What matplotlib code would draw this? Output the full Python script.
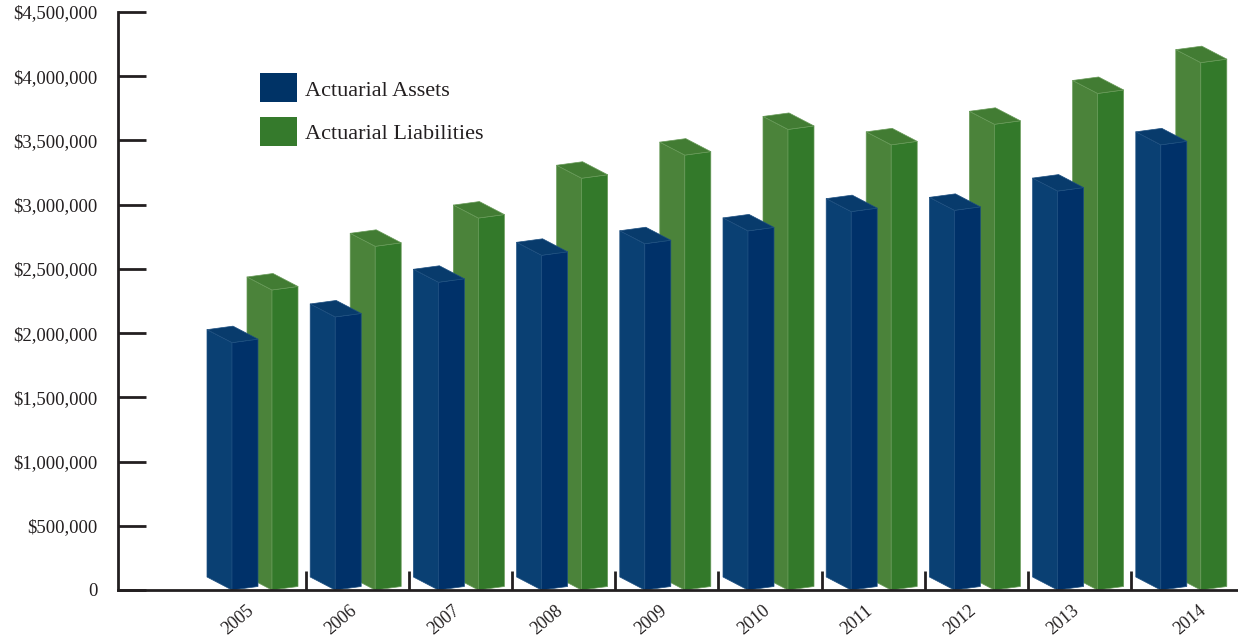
import matplotlib
matplotlib.use("Agg")
import matplotlib.pyplot as plt
from matplotlib.patches import Polygon, Rectangle
from matplotlib.ticker import FuncFormatter, FixedLocator
import matplotlib.transforms as mtransforms

# data
years = ["2005", "2006", "2007", "2008", "2009", "2010", "2011", "2012", "2013", "2014"]
assets = [1.99e6, 2.19e6, 2.46e6, 2.67e6, 2.76e6, 2.86e6, 3.01e6, 3.02e6, 3.17e6, 3.53e6]
liabilities = [2.40e6, 2.74e6, 2.96e6, 3.27e6, 3.45e6, 3.65e6, 3.53e6, 3.69e6, 3.93e6, 4.17e6]
series_names = ["Actuarial Assets", "Actuarial Liabilities"]

# face colours: left (lit), right (shade), top
blue = {"left": "#0a4073", "right": "#003169", "top": "#083b6c", "edge": "#1d4f80", "legend": "#003366"}
green = {"left": "#4b833a", "right": "#33792a", "top": "#427c33", "edge": "#679a58", "legend": "#357a2c"}

plt.rcParams["font.family"] = ["Liberation Serif", "DejaVu Serif"]
INK = "#231f20"

fig = plt.figure(figsize=(12.38, 6.38), dpi=100)
W, H = 1238, 638
ax = fig.add_axes([118 / W, (H - 590) / H, (W - 118) / W, (590 - 12) / H])

GROUP_PX = 103.2
ax.set_xlim(-(254 - 118) / GROUP_PX, (W - 254) / GROUP_PX)
ax.set_ylim(0, 4.5e6)

# pseudo-3D box geometry (group units / data units)
XL, XF, XR = (207 - 254) / GROUP_PX, (232 - 254) / GROUP_PX, (258 - 254) / GROUP_PX
SHIFT = 40 / GROUP_PX
DY1 = 13 / 578 * 4.5e6
DY2 = 3.5 / 578 * 4.5e6


def draw_box(x0, value, col):
    xl, xf, xr = x0 + XL, x0 + XF, x0 + XR
    t = value - (DY1 + DY2) / 2
    left = [(xl, DY1), (xf, 0), (xf, t), (xl, t + DY1)]
    right = [(xf, 0), (xr, DY2), (xr, t + DY2), (xf, t)]
    top = [(xf, t), (xl, t + DY1), (xl + (xr - xf), t + DY1 + DY2), (xr, t + DY2)]
    for pts, key in [(left, "left"), (right, "right"), (top, "top")]:
        ax.add_patch(Polygon(pts, closed=True, facecolor=col[key], edgecolor=col["edge"],
                             linewidth=0.5, joinstyle="round", zorder=3))


for i in range(len(years)):
    draw_box(i + SHIFT, liabilities[i], green)
    draw_box(i, assets[i], blue)

# axes styling
for s in ["top", "right"]:
    ax.spines[s].set_visible(False)
for s in ["left", "bottom"]:
    ax.spines[s].set_color(INK)
    ax.spines[s].set_linewidth(2.0)
    ax.spines[s].set_zorder(4)

ax.yaxis.set_major_locator(FixedLocator([k * 5e5 for k in range(10)]))
ax.yaxis.set_major_formatter(FuncFormatter(lambda v, p: "0" if v == 0 else f"${v:,.0f}"))
ax.tick_params(axis="y", direction="in", length=20, width=2.0, color=INK, pad=15,
               labelsize=13.5, labelcolor=INK)

ax.xaxis.set_major_locator(FixedLocator([i + 0.5 for i in range(len(years) - 1)]))
ax.tick_params(axis="x", direction="in", length=13.5, width=2.0, color=INK, labelbottom=False)

# rotated year labels under each group
nudge = [0] * (len(years) - 1) + [24]
trans = mtransforms.blended_transform_factory(ax.transData, ax.transAxes)
for i, yr in enumerate(years):
    off = mtransforms.ScaledTranslation((nudge[i] - 8) / 100, -12 / 100, fig.dpi_scale_trans)
    ax.text(i, 0, yr, transform=trans + off, rotation=40, rotation_mode="anchor",
            ha="right", va="top", fontsize=13, color=INK)

# legend drawn by hand: swatch + label per series
legend_rows = [(73, 96, blue["legend"]), (117, 139, green["legend"])]
for (top_px, base_px, colr), name in zip(legend_rows, series_names):
    fig.patches.append(Rectangle((260 / W, 1 - (top_px + 29) / H), 37 / W, 29 / H,
                                 transform=fig.transFigure, facecolor=colr, edgecolor="none"))
    fig.text(305 / W, 1 - base_px / H, name, fontsize=16, color=INK, va="baseline", ha="left")

fig.savefig("out.png", dpi=100)
